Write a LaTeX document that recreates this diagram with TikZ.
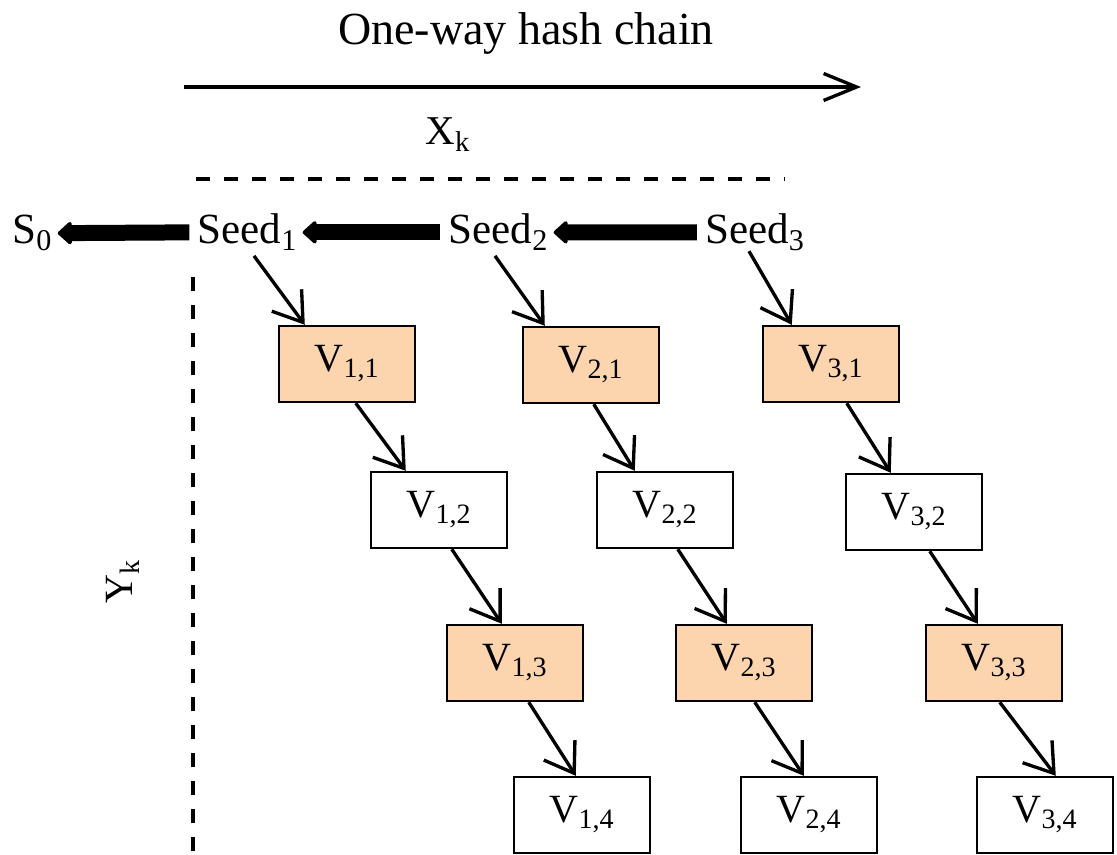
\documentclass[tikz,border=0pt]{standalone}
\usepackage{fontspec}
\setmainfont{Liberation Serif}
\usepackage{tikz}
\usetikzlibrary{positioning,arrows.meta}

\definecolor{peach}{RGB}{252,213,174}

\begin{document}
\begin{tikzpicture}[x=0.02cm, y=-0.02cm,
          every node/.style = {inner sep=0pt, font=\fontsize{22.8}{26}\selectfont},
          seed/.style = {anchor=base, font=\fontsize{24.5}{28}\selectfont},
          vbox/.style = {draw, line width=1.4pt, minimum width=2.72cm, minimum height=1.52cm},
          hot/.style = {vbox, fill=peach},
          cold/.style = {vbox, fill=white},
          link/.style = {line width=1.9pt, -{Straight Barb[length=0.55cm,width=0.74cm]}},
          back/.style = {line width=0.32cm, -{Triangle[round,length=0.3cm,width=0.52cm]}, line join=round},
          guide/.style = {line width=2pt, dash pattern=on 0.28cm off 0.28cm}]
          \useasboundingbox (0,0) rectangle (1117,855);

          % axes
          \node[anchor=base, font=\fontsize{26.2}{30}\selectfont] (title) at (526,45) {One-way hash chain};
          \coordinate (xa) at (184,87);
          \coordinate (xb) at (861,87);
          \draw[line width=1.9pt, -{Straight Barb[length=0.66cm,width=0.54cm]}] (xa) -- (xb);
          \node[anchor=base, font=\fontsize{23.3}{26}\selectfont] (xk) at (448,145) {X\textsubscript{k}};
          \coordinate (ha) at (196,179);
          \coordinate (hb) at (784,179);
          \draw[guide] (ha) -- (hb);
          \coordinate (va) at (193,277);
          \coordinate (vb) at (193,855);
          \draw[guide] (va) -- (vb);
          \node[rotate=90] (yk) at (123,582) {Y\textsubscript{k}};

          % seeds
          \node[seed] (s0) at (32.5,244) {S\textsubscript{0}};
          \node[seed] (seed1) at (247.5,244) {Seed\textsubscript{1}};
          \node[seed] (seed2) at (498.5,244) {Seed\textsubscript{2}};
          \node[seed] (seed3) at (755,244) {Seed\textsubscript{3}};
          \draw[back] ([xshift=-0.16cm]seed1.west) -- ([xshift=0.1cm]s0.east);
          \draw[back] ([xshift=-0.16cm]seed2.west) -- ([xshift=0.1cm]seed1.east);
          \draw[back] ([xshift=-0.16cm]seed3.west) -- ([xshift=0.1cm]seed2.east);

          % values
          \node[hot]  (v11) at (347,364) {V\textsubscript{1,1}};
          \node[hot]  (v21) at (591,365) {V\textsubscript{2,1}};
          \node[hot]  (v31) at (831,364) {V\textsubscript{3,1}};
          \node[cold] (v12) at (439,510) {V\textsubscript{1,2}};
          \node[cold] (v22) at (665,510) {V\textsubscript{2,2}};
          \node[cold] (v32) at (914,512) {V\textsubscript{3,2}};
          \node[hot]  (v13) at (515,663) {V\textsubscript{1,3}};
          \node[hot]  (v23) at (744,663) {V\textsubscript{2,3}};
          \node[hot]  (v33) at (994,663) {V\textsubscript{3,3}};
          \node[cold] (v14) at (582,815) {V\textsubscript{1,4}};
          \node[cold] (v24) at (809,815) {V\textsubscript{2,4}};
          \node[cold] (v34) at (1045,815) {V\textsubscript{3,4}};

          \draw[link] ([xshift=0.13cm,yshift=-0.1cm]seed1.south) -- ([xshift=0.54cm]v11.north west);
          \draw[link] ([xshift=-0.07cm,yshift=-0.1cm]seed2.south) -- ([xshift=0.46cm]v21.north west);
          \draw[link] ([xshift=-0.12cm]seed3.south) -- ([xshift=0.6cm]v31.north west);
          \draw[link] ([xshift=1.56cm]v11.south west) -- ([xshift=0.72cm]v12.north west);
          \draw[link] ([xshift=1.44cm]v21.south west) -- ([xshift=0.78cm]v22.north west);
          \draw[link] ([xshift=1.7cm]v31.south west) -- ([xshift=0.92cm]v32.north west);
          \draw[link] ([xshift=1.64cm]v12.south west) -- ([xshift=1.12cm]v13.north west);
          \draw[link] ([xshift=1.64cm]v22.south west) -- ([xshift=1.04cm]v23.north west);
          \draw[link] ([xshift=1.7cm]v32.south west) -- ([xshift=1.06cm]v33.north west);
          \draw[link] ([xshift=1.66cm]v13.south west) -- ([xshift=1.26cm]v14.north west);
          \draw[link] ([xshift=1.6cm]v23.south west) -- ([xshift=1.28cm]v24.north west);
          \draw[link] ([xshift=1.5cm]v33.south west) -- ([xshift=1.6cm]v34.north west);
\end{tikzpicture}
\end{document}
